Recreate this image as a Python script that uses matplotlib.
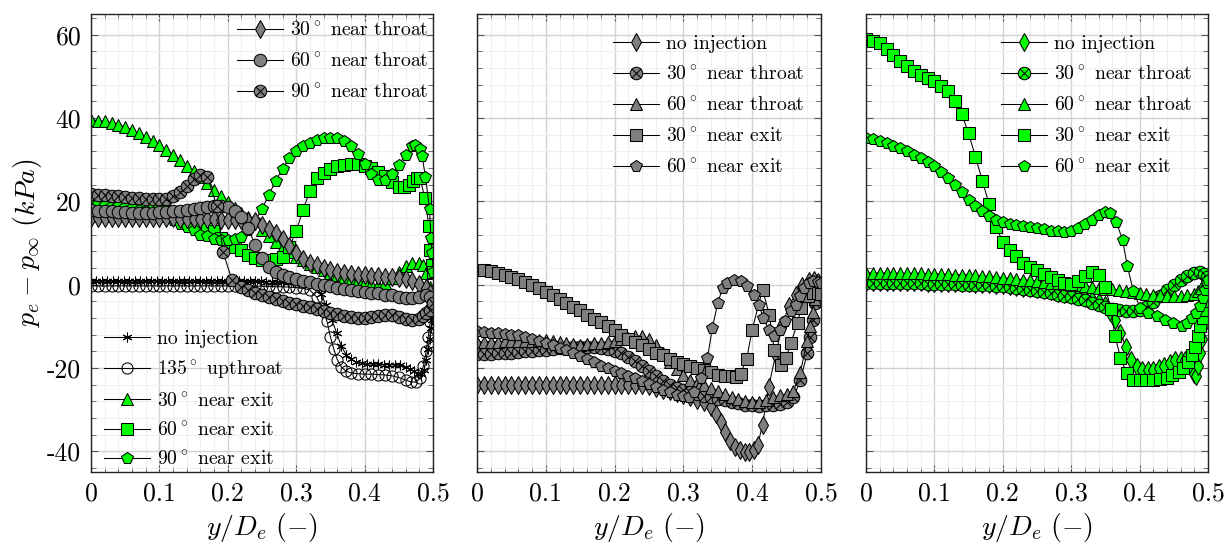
import matplotlib
matplotlib.use('Agg')
import matplotlib.pyplot as plt
from matplotlib.path import Path
from matplotlib.ticker import MultipleLocator, FixedLocator, FixedFormatter

plt.rcParams['font.family'] = 'serif'
plt.rcParams['font.serif'] = ['cmr10']
plt.rcParams['mathtext.fontset'] = 'cm'
plt.rcParams['axes.unicode_minus'] = False
plt.rcParams['axes.formatter.use_mathtext'] = True

# ---------------- data ----------------
GRID = [0.00, 0.01, 0.02, 0.03, 0.04, 0.05, 0.06, 0.07, 0.08, 0.09,
        0.10, 0.11, 0.12, 0.13, 0.14, 0.15, 0.16, 0.17, 0.18, 0.19,
        0.20, 0.21, 0.22, 0.23, 0.24, 0.25, 0.26, 0.27, 0.28, 0.29,
        0.30, 0.31, 0.32, 0.33, 0.34, 0.35, 0.36, 0.37, 0.38, 0.39,
        0.40, 0.41, 0.42, 0.43, 0.44, 0.45, 0.46, 0.47, 0.48]

XTICKS = [0.0, 0.1, 0.2, 0.3, 0.4, 0.5]
XTICKLABELS = ['0', '0.1', '0.2', '0.3', '0.4', '0.5']
YTICKS = [-40, -20, 0, 20, 40, 60]
YTICKLABELS = ['-40', '-20', '0', '20', '40', '60']

# ---- panel 1 ----
P1_NOINJ_X = [0.000, 0.008, 0.016, 0.024, 0.032, 0.040, 0.048, 0.056, 0.064, 0.072,
              0.080, 0.088, 0.096, 0.104, 0.112, 0.120, 0.128, 0.136, 0.144, 0.152,
              0.160, 0.168, 0.176, 0.184, 0.192, 0.200, 0.208, 0.216, 0.224, 0.232,
              0.240, 0.248, 0.256, 0.264, 0.272, 0.280, 0.288, 0.296, 0.304, 0.312,
              0.320, 0.328, 0.336, 0.344, 0.352, 0.359, 0.366, 0.373, 0.380, 0.388,
              0.396, 0.404, 0.412, 0.420, 0.428, 0.436, 0.444, 0.452, 0.460, 0.466,
              0.472, 0.478, 0.483, 0.487, 0.490, 0.493, 0.495, 0.497, 0.498, 0.499, 0.500]
P1_NOINJ_Y = [0.9, 0.9, 0.9, 0.9, 0.9, 0.9, 0.9, 0.9, 0.9, 0.9,
              0.9, 0.9, 0.9, 0.9, 0.9, 0.9, 0.9, 0.9, 0.9, 0.9,
              0.9, 0.9, 0.9, 0.9, 0.9, 0.8, 0.8, 0.8, 0.8, 0.8,
              0.8, 0.8, 0.7, 0.7, 0.7, 0.6, 0.6, 0.6, 0.5, 0.5,
              0.4, 0.0, -2.2, -5.0, -8.5, -11.5, -14.8, -16.8, -17.9, -18.6,
              -18.9, -19.0, -19.1, -19.1, -19.2, -19.2, -19.3, -19.4, -19.7, -20.2,
              -20.8, -21.4, -21.5, -20.5, -18.0, -15.5, -13.0, -10.5, -8.5, -7.0, -5.5]

P1_UP135_HEAD = [-0.3, -0.3, -0.3, -0.3, -0.3, -0.3, -0.3, -0.3, -0.3, -0.3,
                 -0.3, -0.3, -0.3, -0.3, -0.3, -0.3, -0.3, -0.3, -0.3, -0.3,
                 -0.3, -0.3, -0.3, -0.4, -0.4, -0.4, -0.4, -0.5, -0.5, -0.6,
                 -0.7, -0.9, -1.3, -3.0]
P1_UP135_TX = [0.338, 0.345, 0.350, 0.355, 0.360, 0.366, 0.373, 0.380, 0.390, 0.400,
               0.410, 0.420, 0.430, 0.440, 0.450, 0.460, 0.468, 0.475, 0.481, 0.486,
               0.490, 0.493, 0.496, 0.498, 0.500]
P1_UP135_TY = [-5.5, -8.8, -12.5, -15.5, -18.0, -19.8, -20.8, -21.2, -21.4, -21.5,
               -21.5, -21.6, -21.7, -21.9, -22.3, -22.9, -23.4, -23.4, -22.5, -19.5,
               -16.0, -12.5, -9.0, -6.5, -4.5]

P1_E30_HEAD = [39.6, 39.4, 39.2, 38.9, 38.4, 37.8, 37.1, 36.3, 35.5, 34.5,
               33.5, 32.4, 31.2, 29.9, 28.6, 27.3, 25.8, 24.3, 22.8, 21.2,
               19.8, 18.5, 17.3, 16.2, 15.2, 13.2, 11.6, 10.2, 9.0, 7.9,
               6.6, 5.8, 5.0, 4.2, 3.5, 2.9, 2.4, 1.9, 1.4, 1.0,
               0.6, 0.1, -0.2, 0.3, 1.6, 3.1, 4.4, 5.1, 5.1]
P1_E30_TX = [0.485, 0.490, 0.495, 0.500]
P1_E30_TY = [4.6, 2.8, -0.5, -3.0]

P1_E60_HEAD = [20.8, 20.6, 20.4, 20.2, 20.0, 19.7, 19.4, 19.1, 18.8, 18.5,
               18.2, 17.7, 17.1, 16.3, 15.5, 14.7, 14.0, 13.4, 12.8, 11.3,
               9.8, 9.0, 8.4, 7.2, 6.3, 6.0, 5.9, 6.1, 6.6, 9.0,
               12.8, 18.0, 22.5, 25.5, 26.8, 27.8, 28.4, 28.7, 28.9, 28.9,
               28.6, 28.1, 27.0, 26.0, 24.6]
P1_E60_TX = [0.450, 0.458, 0.465, 0.471, 0.477, 0.481, 0.488, 0.494, 0.496, 0.498, 0.500]
P1_E60_TY = [23.4, 23.5, 24.0, 24.9, 25.5, 25.6, 20.9, 14.0, 8.4, 4.8, 3.0]

P1_E90_HEAD = [19.4, 19.3, 19.2, 19.0, 18.8, 18.6, 18.3, 18.0, 17.6, 17.2,
               16.8, 16.2, 15.5, 14.6, 13.8, 13.1, 12.0, 11.6, 11.0, 10.7,
               10.7, 10.9, 11.5, 13.2, 15.3, 18.2, 21.5, 25.0, 27.8, 30.3,
               32.0, 33.3, 34.0, 34.7, 35.1, 35.3, 35.2, 34.6, 33.2, 31.3,
               29.0, 26.6, 25.1, 25.2, 26.6, 28.8, 31.2]
P1_E90_TX = [0.469, 0.474, 0.481, 0.484, 0.489, 0.495, 0.497, 0.499, 0.500]
P1_E90_TY = [33.2, 33.5, 32.5, 30.9, 25.9, 18.1, 11.2, 7.5, 3.0]

P1_T30_HEAD = [16.0, 16.0, 16.0, 16.0, 16.0, 16.0, 15.9, 15.9, 15.9, 15.9,
               15.9, 15.9, 15.9, 15.8, 15.8, 15.8, 15.8, 15.8, 15.7, 15.6,
               15.6, 15.5, 15.5, 15.4, 15.3, 14.4, 13.4, 12.3, 10.9, 9.2,
               7.5, 6.2, 5.3, 4.6, 3.9, 3.4, 3.0, 2.7, 2.5, 2.3,
               2.2, 2.1, 2.0, 1.9, 1.8, 1.6, 1.3, 0.8, 0.2]
P1_T30_TX = [0.490, 0.495, 0.500]
P1_T30_TY = [-0.8, -2.0, -3.5]

P1_T60_HEAD = [17.9, 17.8, 17.7, 17.6, 17.5, 17.4, 17.3, 17.3, 17.3, 17.3,
               17.4, 17.5, 17.6, 17.8, 18.0, 18.2, 18.5, 18.7, 18.9, 18.9,
               18.6, 17.7, 16.3, 13.5, 9.5, 6.3, 4.2, 3.0, 2.3, 1.8,
               1.3, 0.9, 0.6, 0.2, -0.1, -0.4, -0.7, -1.0, -1.2, -1.5,
               -1.7, -1.9, -2.1, -2.4, -2.6, -2.9, -3.1, -3.3, -3.0]
P1_T60_TX = [0.490, 0.495, 0.500]
P1_T60_TY = [-2.4, -3.0, -4.4]

P1_T90_HEAD = [21.7, 21.6, 21.5, 21.4, 21.2, 21.0, 20.8, 20.7, 20.6, 20.5,
               20.5, 20.6, 21.2, 22.2, 23.7, 25.3, 26.3, 25.9]
P1_T90_TX = [0.184, 0.193, 0.206, 0.220, 0.230, 0.240, 0.250, 0.260, 0.270, 0.280,
             0.290, 0.300, 0.310, 0.320, 0.330, 0.340, 0.350, 0.360, 0.370, 0.380,
             0.390, 0.400, 0.410, 0.420, 0.430, 0.440, 0.450, 0.460, 0.470, 0.480,
             0.485, 0.490, 0.495, 0.500]
P1_T90_TY = [18.9, 7.8, 1.2, -0.6, -1.3, -2.0, -2.6, -3.0, -3.4, -3.9,
             -4.3, -4.7, -5.1, -5.4, -5.8, -6.3, -6.7, -7.1, -7.5, -7.8,
             -8.0, -8.0, -7.8, -7.5, -7.3, -7.4, -7.8, -8.3, -8.6, -8.2,
             -7.6, -6.9, -6.0, -4.4]

# ---- panel 2 ----
P2_NOINJ_HEAD = [-24.1, -24.1, -24.1, -24.1, -24.1, -24.1, -24.1, -24.1, -24.1, -24.1,
                 -24.1, -24.1, -24.1, -24.1, -24.1, -24.1, -24.1, -24.1, -24.1, -24.1,
                 -24.1, -24.1, -24.1, -24.1, -24.1, -24.4, -24.8, -25.2, -25.6, -26.1,
                 -26.6, -27.1, -27.6, -28.3]
P2_NOINJ_TX = [0.340, 0.347, 0.354, 0.361, 0.368, 0.375, 0.382, 0.389, 0.396, 0.402,
               0.408, 0.415, 0.424, 0.434, 0.444, 0.453, 0.463, 0.472, 0.482, 0.490,
               0.496, 0.500]
P2_NOINJ_TY = [-29.5, -31.0, -33.0, -35.5, -37.5, -39.0, -39.8, -40.2, -40.1, -39.6,
               -38.5, -33.7, -24.5, -16.9, -9.6, -5.2, -2.4, -0.4, 0.8, 1.0,
               0.6, 0.0]

P2_T30_HEAD = [-16.6, -16.6, -16.6, -16.5, -16.4, -16.3, -16.2, -16.0, -15.9, -15.7,
               -15.6, -15.4, -15.2, -15.1, -15.0, -14.9, -14.9, -15.0, -15.2, -15.5,
               -15.9, -16.5, -17.3, -18.3, -19.5, -20.8, -22.0, -23.1, -24.0, -24.8,
               -25.4, -25.9, -26.3, -26.7, -27.1, -27.4, -27.8, -28.1, -28.5, -28.8,
               -29.0, -29.1, -29.0, -28.8, -28.6, -28.2, -27.0, -23.0, -16.5]
P2_T30_TX = [0.484, 0.488, 0.492, 0.496, 0.500]
P2_T30_TY = [-12.5, -8.5, -4.5, -1.5, 0.0]

P2_T60_HEAD = [-13.7, -13.7, -13.7, -13.7, -13.6, -13.6, -13.6, -13.5, -13.5, -13.4,
               -13.4, -13.5, -13.7, -14.0, -14.3, -14.4, -14.3, -14.1, -13.9, -13.7,
               -13.5, -13.1, -12.7, -12.4, -12.4, -13.0, -14.5, -16.5, -18.5, -20.2,
               -21.7, -22.8, -23.6, -24.2, -24.9, -25.5, -26.2, -26.9, -27.5, -27.9,
               -28.2, -28.2, -27.6, -27.0, -26.6, -26.3, -25.6, -21.0, -13.5]
P2_T60_TX = [0.484, 0.488, 0.492, 0.496, 0.500]
P2_T60_TY = [-10.0, -6.5, -3.5, -1.0, 0.2]

P2_E30_HEAD = [3.6, 3.5, 3.2, 2.8, 2.4, 1.8, 1.3, 0.6, -0.2, -0.9,
               -1.7, -2.6, -3.4, -4.3, -5.3, -6.2, -7.2, -8.2, -9.0, -9.9,
               -11.0, -12.2, -13.0, -13.8, -14.6, -15.4, -16.3, -17.0, -17.8, -18.6,
               -19.1, -19.6, -20.1, -20.6, -21.1, -21.6, -22.0, -22.0]
P2_E30_TX = [0.376, 0.383, 0.392, 0.400, 0.415, 0.425, 0.432, 0.442, 0.449, 0.456,
             0.466, 0.471, 0.481, 0.488, 0.495, 0.500]
P2_E30_TY = [-22.2, -21.4, -17.8, -10.8, -1.2, -7.2, -15.7, -19.3, -17.7, -14.1,
             -9.2, -5.6, -2.8, -2.0, -2.0, -2.2]

P2_E60_HEAD = [-11.2, -11.3, -11.5, -11.6, -11.8, -12.0, -12.2, -12.6, -13.0, -13.5,
               -14.0, -14.5, -15.1, -15.7, -16.3, -17.1, -17.9, -18.7, -19.5, -20.1,
               -20.7, -21.3, -21.9, -22.5, -23.2, -23.9, -24.6, -25.3, -25.9, -26.4,
               -26.8]
P2_E60_TX = [0.308, 0.315, 0.325, 0.335, 0.342, 0.350, 0.357, 0.364, 0.374, 0.383,
             0.393, 0.403, 0.410, 0.416, 0.424, 0.431, 0.440, 0.448, 0.456, 0.463,
             0.469, 0.475, 0.482, 0.489, 0.496, 0.500]
P2_E60_TY = [-26.9, -25.9, -22.5, -17.7, -10.4, -4.4, -0.8, 0.4, 1.2, 0.8,
             -0.4, -2.4, -5.0, -8.0, -10.8, -12.4, -10.8, -8.8, -6.4, -4.8,
             -2.8, -0.8, 0.4, 0.8, 0.6, 0.3]

# ---- panel 3 ----
P3_NOINJ_HEAD = [0.7, 0.7, 0.7, 0.7, 0.7, 0.6, 0.6, 0.6, 0.6, 0.5,
                 0.5, 0.5, 0.4, 0.4, 0.3, 0.3, 0.2, 0.2, 0.1, 0.0,
                 -0.1, -0.3, -0.5, -0.7, -0.9, -1.1, -1.3, -1.6, -1.9, -2.2,
                 -2.5, -2.8, -3.2, -3.6, -4.2, -5.0]
P3_NOINJ_TX = [0.357, 0.364, 0.372, 0.380, 0.388, 0.396, 0.404, 0.412, 0.420, 0.428,
               0.436, 0.444, 0.452, 0.460, 0.466, 0.471, 0.476, 0.480, 0.483, 0.486,
               0.488, 0.491, 0.493, 0.495, 0.497, 0.499, 0.500]
P3_NOINJ_TY = [-6.5, -8.4, -11.5, -15.0, -18.0, -19.8, -20.5, -20.6, -20.4, -20.1,
               -19.6, -18.8, -18.2, -18.0, -18.1, -18.6, -20.2, -21.5, -22.0, -19.5,
               -16.5, -13.0, -10.0, -7.0, -4.5, -2.0, 0.0]

P3_T30_HEAD = [0.4, 0.4, 0.4, 0.4, 0.4, 0.3, 0.3, 0.3, 0.3, 0.2,
               0.2, 0.2, 0.1, 0.1, 0.0, 0.0, -0.1, -0.1, -0.2, -0.3,
               -0.4, -0.5, -0.7, -1.0, -1.3, -1.5, -1.8, -2.1, -2.4, -2.7,
               -3.0, -3.4, -3.8, -4.3, -4.8, -5.3, -5.8, -6.2, -6.4, -6.4,
               -6.2, -5.3, -4.2, -2.8, -1.4, 0.0, 1.1, 2.0, 2.7]
P3_T30_TX = [0.488, 0.494, 0.498, 0.500, 0.500]
P3_T30_TY = [3.0, 2.6, 1.8, 0.8, -0.6]

P3_T60_HEAD = [2.8, 2.8, 2.8, 2.8, 2.8, 2.7, 2.7, 2.7, 2.7, 2.6,
               2.6, 2.5, 2.5, 2.4, 2.4, 2.3, 2.2, 2.1, 2.0, 1.8,
               1.6, 1.5, 1.3, 1.2, 1.0, 0.8, 0.6, 0.5, 0.3, 0.2,
               0.0, -0.2, -0.4, -0.6, -0.8, -1.0, -1.1, -1.3, -1.5, -1.8,
               -2.0, -2.2, -2.4, -2.6, -2.7, -2.8, -2.8, -2.6, -2.2]
P3_T60_TX = [0.485, 0.490, 0.495, 0.500]
P3_T60_TY = [-1.6, -0.8, 0.2, 1.2]

P3_E30_HEAD = [59.0, 58.6, 58.1, 56.6, 55.1, 53.8, 52.6, 51.4, 50.4, 49.7,
               48.8, 47.8, 46.5, 44.0, 41.0, 36.3, 30.7, 25.0, 19.3, 13.9,
               10.3, 8.3, 6.8, 5.3, 4.2, 3.4, 2.6, 1.8, 1.0, 0.5,
               0.2, 0.9, 2.1, 3.0, 2.4, -0.6]
P3_E30_TX = [0.358, 0.364, 0.372, 0.381, 0.390, 0.400, 0.410, 0.420, 0.430, 0.440,
             0.447, 0.457, 0.464, 0.471, 0.476, 0.481, 0.486, 0.488, 0.492, 0.494,
             0.497, 0.499, 0.500]
P3_E30_TY = [-5.9, -12.3, -17.5, -21.3, -22.9, -22.9, -22.9, -22.9, -22.7, -22.5,
             -21.7, -20.9, -20.1, -18.5, -16.9, -14.9, -12.4, -10.0, -8.0, -6.0,
             -4.0, -2.0, 0.0]

P3_E60_HEAD = [35.1, 34.9, 34.5, 34.0, 33.4, 32.8, 32.0, 31.2, 30.4, 29.5,
               28.4, 27.1, 25.7, 24.0, 22.3, 20.4, 18.9, 17.8, 16.6, 15.6,
               15.0, 14.6, 14.3, 14.1, 13.9, 13.6, 13.3, 13.0, 12.8, 12.7,
               13.0, 13.7, 14.5, 15.5, 16.7, 17.4]
P3_E60_TX = [0.357, 0.366, 0.375, 0.382, 0.391, 0.401, 0.413, 0.425, 0.437, 0.449,
             0.462, 0.469, 0.476, 0.483, 0.488, 0.492, 0.496, 0.498, 0.500]
P3_E60_TY = [17.3, 15.0, 10.8, 4.5, -1.6, -5.6, -6.8, -7.6, -8.4, -9.2,
             -9.9, -9.2, -8.0, -6.8, -5.2, -3.2, -1.2, 0.4, 1.2]

# ---------------- styling ----------------
GRAY = '#7f7f7f'
GREEN = '#00ff00'
circ = Path.unit_circle()
XCIRC = Path(list(circ.vertices) + [(-0.707, -0.707), (0.707, 0.707),
                                    (-0.707, 0.707), (0.707, -0.707)],
             list(circ.codes) + [Path.MOVETO, Path.LINETO, Path.MOVETO, Path.LINETO])
ASTER = (6, 2, 0)


def series(head, tx, ty):
    return GRID[:len(head)] + tx, head + ty


def draw(ax, x, y, marker, ms, fc, label):
    ln, = ax.plot(x, y, color='black', lw=0.75, marker=marker, ms=ms, mfc=fc,
                  mec='black', mew=0.75, label=label)
    return ln


def style_axes(ax, left):
    ax.set_xlim(0, 0.5)
    ax.set_ylim(-45, 65)
    ax.xaxis.set_major_locator(FixedLocator(XTICKS))
    ax.xaxis.set_major_formatter(FixedFormatter(XTICKLABELS))
    ax.yaxis.set_major_locator(FixedLocator(YTICKS))
    ax.yaxis.set_major_formatter(FixedFormatter(YTICKLABELS))
    ax.xaxis.set_minor_locator(MultipleLocator(0.02))
    ax.yaxis.set_minor_locator(MultipleLocator(4))
    ax.grid(which='major', color='#d2d2d2', lw=1.0, zorder=0)
    ax.grid(which='minor', color='#efefef', lw=0.8, zorder=0)
    ax.set_axisbelow(True)
    ax.tick_params(which='both', direction='in', top=True, right=True,
                   color='#555555', labelsize=18.5)
    ax.tick_params(which='major', length=5, width=0.8, pad=7)
    ax.tick_params(which='minor', length=3.5, width=0.6)
    if not left:
        ax.tick_params(labelleft=False)
    for s in ax.spines.values():
        s.set_color('#222222')
        s.set_linewidth(1.0)
    ax.set_xlabel(r'$y/D_e\ (-)$', fontsize=20, labelpad=4)


LEG_KW = dict(frameon=False, fontsize=14.2, handlelength=2.35, handletextpad=0.32,
              borderpad=0, borderaxespad=0, numpoints=1, loc='upper left')

fig = plt.figure(figsize=(12.28, 5.46), dpi=100)
ax1 = fig.add_axes([91 / 1228, 1 - 472 / 546, 342 / 1228, 458 / 546])
ax2 = fig.add_axes([477 / 1228, 1 - 472 / 546, 344 / 1228, 458 / 546])
ax3 = fig.add_axes([866 / 1228, 1 - 472 / 546, 342 / 1228, 458 / 546])

# ---- panel 1 ----
style_axes(ax1, True)
ax1.set_ylabel(r'$p_e - p_\infty\ (kPa)$', fontsize=20, labelpad=2)
h_e30 = draw(ax1, *series(P1_E30_HEAD, P1_E30_TX, P1_E30_TY), '^', 8, GREEN, r'$30^\circ$ near exit')
h_e60 = draw(ax1, *series(P1_E60_HEAD, P1_E60_TX, P1_E60_TY), 's', 8, GREEN, r'$60^\circ$ near exit')
h_e90 = draw(ax1, *series(P1_E90_HEAD, P1_E90_TX, P1_E90_TY), 'p', 8.5, GREEN, r'$90^\circ$ near exit')
h_no = draw(ax1, P1_NOINJ_X, P1_NOINJ_Y, ASTER, 7, 'black', 'no injection')
h_up = draw(ax1, *series(P1_UP135_HEAD, P1_UP135_TX, P1_UP135_TY), 'o', 8, 'none', r'$135^\circ$ upthroat')
h_t30 = draw(ax1, *series(P1_T30_HEAD, P1_T30_TX, P1_T30_TY), 'd', 9, GRAY, r'$30^\circ$ near throat')
h_t60 = draw(ax1, *series(P1_T60_HEAD, P1_T60_TX, P1_T60_TY), 'o', 9, GRAY, r'$60^\circ$ near throat')
h_t90 = draw(ax1, *series(P1_T90_HEAD, P1_T90_TX, P1_T90_TY), XCIRC, 9, GRAY, r'$90^\circ$ near throat')

leg1 = ax1.legend(handles=[h_t30, h_t60, h_t90], bbox_to_anchor=(0.427, 0.984),
                  labelspacing=0.62, **LEG_KW)
ax1.add_artist(leg1)
ax1.legend(handles=[h_no, h_up, h_e30, h_e60, h_e90], bbox_to_anchor=(0.038, 0.311),
           labelspacing=0.54, **LEG_KW)

# ---- panel 2 ----
style_axes(ax2, False)
g_no = draw(ax2, *series(P2_NOINJ_HEAD, P2_NOINJ_TX, P2_NOINJ_TY), 'd', 9, GRAY, 'no injection')
g_t30 = draw(ax2, *series(P2_T30_HEAD, P2_T30_TX, P2_T30_TY), XCIRC, 9, GRAY, r'$30^\circ$ near throat')
g_t60 = draw(ax2, *series(P2_T60_HEAD, P2_T60_TX, P2_T60_TY), '^', 8, GRAY, r'$60^\circ$ near throat')
g_e30 = draw(ax2, *series(P2_E30_HEAD, P2_E30_TX, P2_E30_TY), 's', 8, GRAY, r'$30^\circ$ near exit')
g_e60 = draw(ax2, *series(P2_E60_HEAD, P2_E60_TX, P2_E60_TY), 'p', 8.5, GRAY, r'$60^\circ$ near exit')
ax2.legend(handles=[g_no, g_t30, g_t60, g_e30, g_e60], bbox_to_anchor=(0.395, 0.954),
           labelspacing=0.62, **LEG_KW)

# ---- panel 3 ----
style_axes(ax3, False)
k_no = draw(ax3, *series(P3_NOINJ_HEAD, P3_NOINJ_TX, P3_NOINJ_TY), 'd', 9, GREEN, 'no injection')
k_t30 = draw(ax3, *series(P3_T30_HEAD, P3_T30_TX, P3_T30_TY), XCIRC, 9, GREEN, r'$30^\circ$ near throat')
k_t60 = draw(ax3, *series(P3_T60_HEAD, P3_T60_TX, P3_T60_TY), '^', 8, GREEN, r'$60^\circ$ near throat')
k_e30 = draw(ax3, *series(P3_E30_HEAD, P3_E30_TX, P3_E30_TY), 's', 8.5, GREEN, r'$30^\circ$ near exit')
k_e60 = draw(ax3, *series(P3_E60_HEAD, P3_E60_TX, P3_E60_TY), 'p', 8.5, GREEN, r'$60^\circ$ near exit')
ax3.legend(handles=[k_no, k_t30, k_t60, k_e30, k_e60], bbox_to_anchor=(0.395, 0.954),
           labelspacing=0.62, **LEG_KW)

fig.savefig('out.png', dpi=100)
